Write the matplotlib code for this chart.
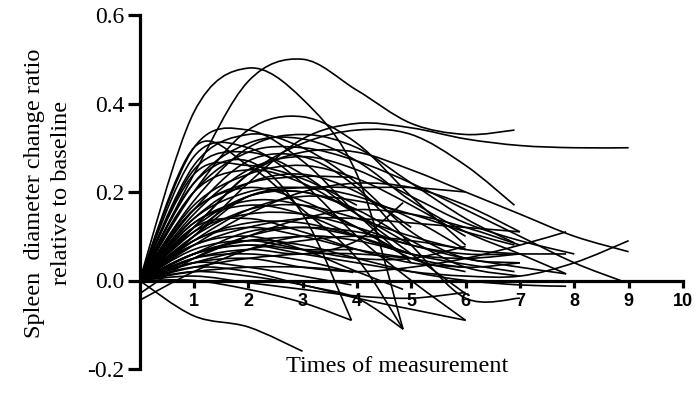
import numpy as np
import matplotlib
matplotlib.use("Agg")
import matplotlib.pyplot as plt
from matplotlib.path import Path
from matplotlib.patches import PathPatch

# ---- data: each subject's ratio at measurement times 0,1,2,... ; last time given separately
curve_values = [
    [0, 0.38, 0.48, 0.41, 0.24, -0.11],
    [0, 0.24, 0.45, 0.50, 0.43, 0.355, 0.33, 0.34],
    [0, 0.10, 0.22, 0.32, 0.355, 0.345, 0.32, 0.305, 0.30, 0.30],
    [0, 0.12, 0.24, 0.31, 0.34, 0.33, 0.26, 0.17],
    [0, 0.20, 0.34, 0.37, 0.31, 0.19, 0.08],
    [0, 0.30, 0.34, 0.27, 0.15, 0.04],
    [0, 0.26, 0.33, 0.30, 0.22, 0.11, 0.05, 0.04],
    [0, 0.18, 0.30, 0.33, 0.30, 0.22, 0.14, 0.085],
    [0, 0.22, 0.31, 0.32, 0.27, 0.18, 0.11, 0.06, 0.015],
    [0, 0.12, 0.24, 0.29, 0.29, 0.25, 0.20, 0.15, 0.10, 0.065],
    [0, 0.20, 0.29, 0.30, 0.27, 0.22, 0.16, 0.10, 0.04, 0.0],
    [0, 0.28, 0.30, 0.22, 0.10, 0.0, -0.09],
    [0, 0.25, 0.29, 0.24, 0.15, 0.06, -0.03],
    [0, 0.16, 0.27, 0.28, 0.21, 0.08, -0.04, -0.04],
    [0, 0.30, 0.26, 0.16, 0.05, -0.11],
    [0, 0.22, 0.27, 0.15, -0.09],
    [0, 0.24, 0.26, 0.23, 0.17],
    [0, 0.10, 0.19, 0.21, 0.21, 0.21, 0.20],
    [0, 0.14, 0.20, 0.21, 0.19, 0.14, 0.07],
    [0, 0.12, 0.19, 0.20, 0.16, 0.09, 0.03, 0.01],
    [0, 0.16, 0.21, 0.18, 0.12, 0.05, 0.02],
    [0, 0.08, 0.15, 0.20, 0.22, 0.21, 0.17, 0.11],
    [0, 0.13, 0.17, 0.15, 0.10, 0.06, 0.05, 0.06],
    [0, 0.11, 0.15, 0.15, 0.12, 0.08, 0.06, 0.06, 0.06],
    [0, 0.05, 0.10, 0.14, 0.16, 0.15, 0.12, 0.08],
    [0, 0.16, 0.22, 0.235, 0.233],
    [0, 0.05, 0.07, 0.06, 0.09, 0.176],
    [0, 0.04, 0.05, 0.03, 0.02, 0.03, 0.05, 0.08, 0.11],
    [0, 0.06, 0.08, 0.06, 0.04, 0.02, 0.01, 0.01, 0.04, 0.09],
    [0, 0.06, 0.09, 0.08, 0.05, 0.02, 0.0, -0.01, -0.013],
    [0, 0.07, 0.09, 0.07, 0.05, 0.05, 0.077],
    [0, 0.09, 0.12, 0.10, 0.07, 0.05, 0.03, 0.04],
    [0, 0.06, 0.08, 0.07, 0.07],
    [0, 0.05, 0.06, 0.045, 0.018],
    [0, 0.08, 0.10, 0.07, 0.02, -0.02],
    [0, 0.01, -0.005, -0.02, -0.035, -0.04, -0.027],
    [0, -0.08, -0.105, -0.16],
    [-0.045, 0.02, 0.07, 0.10, 0.09, 0.06],
    [0, 0.0, -0.02, -0.05, -0.09],
    [0, 0.02, 0.01, -0.01, -0.04, -0.065, -0.09],
    [0, 0.03, 0.02, -0.01, -0.04, -0.11],
    [0, 0.09, 0.13, 0.13, 0.10, 0.06],
    [0, 0.12, 0.14, 0.11, 0.07, 0.04, 0.03],
    [0, 0.04, 0.07, 0.09, 0.10, 0.09, 0.07],
    [0, 0.06, 0.11, 0.12, 0.11, 0.08, 0.05, 0.03, 0.015],
    [0, 0.10, 0.16, 0.17, 0.14, 0.10, 0.07, 0.06],
    [0, 0.14, 0.22, 0.24, 0.20, 0.12],
    [0, 0.20, 0.25, 0.22, 0.15, 0.08],
    [0, 0.17, 0.24, 0.26, 0.23, 0.17, 0.10],
    [0, 0.03, 0.05, 0.06, 0.06, 0.05],
    [0, 0.02, 0.03, 0.03, 0.02],
    [0, 0.11, 0.19, 0.20, 0.16],
    [0, 0.06, 0.09, 0.10],
    [0, 0.13, 0.18, 0.17, 0.12, 0.06, 0.02],
    [0, 0.04, 0.03, 0.01, -0.01],
    [0.02, 0.08, 0.12, 0.14, 0.14, 0.13, 0.12, 0.11],
    [0, 0.15, 0.25, 0.28, 0.25, 0.19, 0.13, 0.09, 0.06],
    [0, 0.09, 0.16, 0.19, 0.18, 0.15, 0.11, 0.08],
    [-0.03, 0.05, 0.10, 0.12, 0.10],
]
curve_last_time = [
    4.85, 6.9, 9, 6.9, 6, 5, 7, 6.9, 7.85, 9,
    8.85, 6, 6, 7, 4.85, 3.9, 4, 6, 6, 7,
    6, 7, 7, 7.85, 7, 3.93, 4.85, 7.85, 9, 7.85,
    6, 7, 3.93, 3.93, 4.85, 6, 3, 5, 3.9, 6,
    4.85, 5, 6, 6, 7.85, 7, 5, 5, 6, 5,
    4, 4, 3, 6.9, 3.9, 7, 8, 6.9, 4,
]

x_ticks = [1, 2, 3, 4, 5, 6, 7, 8, 9, 10]
y_ticks = [-0.2, 0.0, 0.2, 0.4, 0.6]
y_tick_labels = ["-0.2", "0.0", "0.2", "0.4", "0.6"]


def smooth_path(ts, vs):
    pts = np.column_stack([ts, vs]).astype(float)
    n = len(pts)
    verts = [pts[0]]
    codes = [Path.MOVETO]
    for i in range(n - 1):
        p_prev = pts[i - 1] if i > 0 else pts[i]
        p_next2 = pts[i + 2] if i + 2 < n else pts[i + 1]
        c1 = pts[i] + (pts[i + 1] - p_prev) / 6.0
        c2 = pts[i + 1] - (p_next2 - pts[i]) / 6.0
        verts += [c1, c2, pts[i + 1]]
        codes += [Path.CURVE4] * 3
    return Path(verts, codes)


fig = plt.figure(figsize=(7, 3.94), dpi=100)
ax = fig.add_axes([139.5 / 700, 1 - 369 / 394, (683 - 139.5) / 700, (369 - 15) / 394])

for vals, last in zip(curve_values, curve_last_time):
    ts = list(range(len(vals) - 1)) + [last]
    patch = PathPatch(smooth_path(ts, vals), facecolor="none", edgecolor="black",
                      lw=1.2, transform=ax.transData)
    ax.add_patch(patch)

ax.set_xlim(0, 10)
ax.set_ylim(-0.2, 0.6)

for s in ["top", "right"]:
    ax.spines[s].set_visible(False)
ax.spines["bottom"].set_position(("data", 0))
ax.spines["bottom"].set_linewidth(2.3)
ax.spines["left"].set_linewidth(2.3)
ax.spines["bottom"].set_zorder(0.5)

ax.set_xticks(x_ticks)
ax.set_xticklabels([str(t) for t in x_ticks], fontfamily="Liberation Sans",
                   fontweight="bold", fontsize=13)
ax.set_yticks(y_ticks)
ax.set_yticklabels(y_tick_labels, fontfamily="Liberation Serif", fontsize=17)
ax.tick_params(axis="x", direction="out", length=5, width=2.3, pad=4)
ax.tick_params(axis="y", direction="out", length=9, width=2.3, pad=2)

fig.text(397 / 700, 1 - 367 / 394, "Times of measurement", ha="center", va="center",
         fontfamily="Liberation Serif", fontsize=17.5)
fig.text(48 / 700, 1 - 193 / 394, "Spleen  diameter change ratio\nrelative to baseline",
         ha="center", va="center", rotation=90, fontfamily="Liberation Serif",
         fontsize=17.5, linespacing=1.4)

fig.savefig("out.png", dpi=100)
